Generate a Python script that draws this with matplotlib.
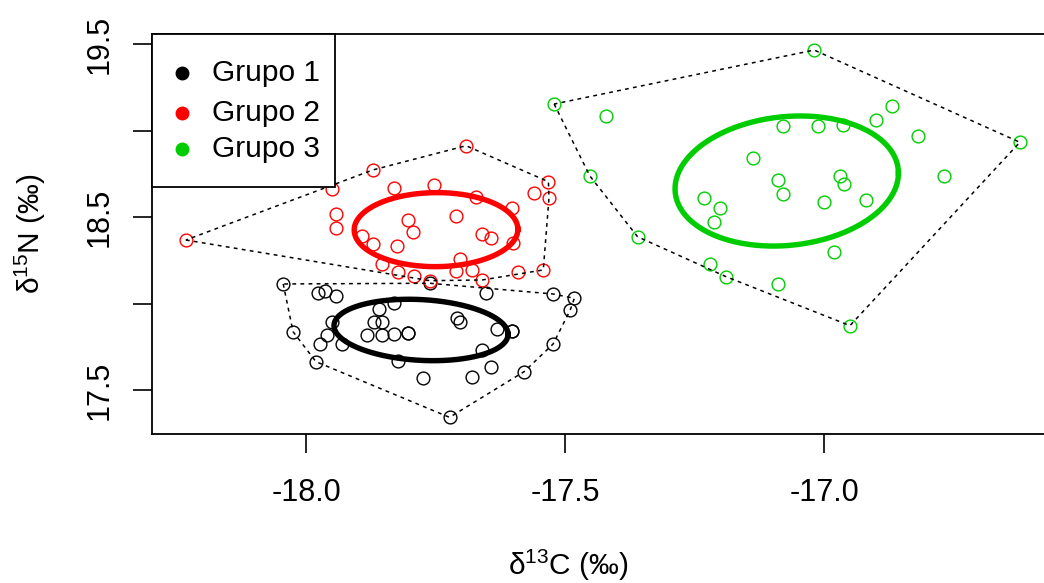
import numpy as np
import matplotlib
matplotlib.use('Agg')
import matplotlib.pyplot as plt
from matplotlib.patches import Rectangle

plt.rcParams['font.family'] = ['Liberation Sans', 'DejaVu Sans']
plt.rcParams['mathtext.default'] = 'regular'

# ---------------- data ----------------
groups = ['Grupo 1', 'Grupo 2', 'Grupo 3']
colors = ['#000000', '#FF0000', '#00CD00']

g1_d13c = [-18.044, -17.976, -17.963, -17.942, -17.761, -17.653, -17.523, -17.482,
           -17.490, -17.523, -17.579, -17.642, -17.680, -17.723, -17.774, -17.823,
           -17.981, -18.025, -17.973, -17.960, -17.950, -17.931, -17.860, -17.830,
           -17.868, -17.854, -17.882, -17.854, -17.830, -17.803, -17.803, -17.709,
           -17.703, -17.602, -17.602, -17.632, -17.661]
g1_d15n = [18.113, 18.062, 18.074, 18.043, 18.117, 18.062, 18.055, 18.030,
           17.962, 17.766, 17.606, 17.635, 17.573, 17.342, 17.571, 17.669,
           17.664, 17.837, 17.766, 17.818, 17.895, 17.766, 17.966, 18.001,
           17.895, 17.895, 17.818, 17.818, 17.824, 17.831, 17.829, 17.914,
           17.895, 17.843, 17.841, 17.851, 17.731]

g2_d13c = [-18.232, -17.871, -17.691, -17.532, -17.531, -17.559, -17.542, -17.590,
           -17.660, -17.680, -17.710, -17.703, -17.761, -17.792, -17.823, -17.854,
           -17.871, -17.891, -17.824, -17.793, -17.804, -17.710, -17.661, -17.642,
           -17.602, -17.600, -17.672, -17.753, -17.830, -17.942, -17.942, -17.950]
g2_d15n = [18.367, 18.772, 18.912, 18.704, 18.608, 18.637, 18.194, 18.184,
           18.136, 18.194, 18.188, 18.255, 18.132, 18.161, 18.184, 18.227,
           18.344, 18.390, 18.332, 18.412, 18.483, 18.506, 18.402, 18.377,
           18.550, 18.348, 18.617, 18.685, 18.669, 18.516, 18.438, 18.660]

g3_d13c = [-17.521, -17.019, -16.622, -16.950, -17.189, -17.220, -17.360, -17.452,
           -17.421, -16.868, -16.900, -16.818, -16.768, -17.080, -17.012, -16.963,
           -17.138, -17.088, -17.080, -16.969, -16.961, -17.000, -16.919, -17.232,
           -17.201, -17.212, -16.981, -17.088]
g3_d15n = [19.153, 19.465, 18.932, 17.872, 18.155, 18.227, 18.386, 18.737,
           19.084, 19.142, 19.061, 18.968, 18.737, 19.026, 19.026, 19.032,
           18.843, 18.714, 18.633, 18.739, 18.691, 18.585, 18.598, 18.608,
           18.550, 18.469, 18.296, 18.111]

# standard ellipses: centre, half-extent in x and y, correlation
ell_cx = [-17.778, -17.749, -17.072]
ell_cy = [17.847, 18.427, 18.708]
ell_w = [0.168, 0.158, 0.2156]
ell_h = [0.1775, 0.214, 0.376]
ell_rho = [-0.14, 0.01, 0.12]

xticks = [-18.0, -17.5, -17.0]
xticklabels = ['-18.0', '-17.5', '-17.0']
yticks = [17.5, 18.0, 18.5, 19.0, 19.5]
yticklabels = ['17.5', '', '18.5', '', '19.5']

xs_all = [g1_d13c, g2_d13c, g3_d13c]
ys_all = [g1_d15n, g2_d15n, g3_d15n]


def convex_hull(xs, ys):
    pts = sorted(set(zip(xs, ys)))

    def cross(o, a, b):
        return (a[0] - o[0]) * (b[1] - o[1]) - (a[1] - o[1]) * (b[0] - o[0])

    lower = []
    for p in pts:
        while len(lower) >= 2 and cross(lower[-2], lower[-1], p) <= 0:
            lower.pop()
        lower.append(p)
    upper = []
    for p in reversed(pts):
        while len(upper) >= 2 and cross(upper[-2], upper[-1], p) <= 0:
            upper.pop()
        upper.append(p)
    h = lower[:-1] + upper[:-1]
    h.append(h[0])
    return np.array(h)


W, H = 1044, 583
fig = plt.figure(figsize=(W / 100, H / 100), dpi=100)
L, R, T, B = 152, 1053, 34, 434
ax = fig.add_axes([L / W, 1 - B / H, (R - L) / W, (B - T) / H])

for xs, ys, c in zip(xs_all, ys_all, colors):
    ax.plot(xs, ys, linestyle='none', marker='o', markersize=9.2,
            markerfacecolor='none', markeredgecolor=c, markeredgewidth=1.0,
            zorder=2)

for xs, ys in zip(xs_all, ys_all):
    h = convex_hull(xs, ys)
    ax.plot(h[:, 0], h[:, 1], color='black', linewidth=1.1,
            linestyle=(0, (2.5, 2.8)), zorder=3)

t = np.linspace(0, 2 * np.pi, 400)
for cx, cy, ew, eh, rho, c in zip(ell_cx, ell_cy, ell_w, ell_h, ell_rho, colors):
    ex = cx + ew * np.cos(t)
    ey = cy + eh * (rho * np.cos(t) + np.sqrt(1 - rho ** 2) * np.sin(t))
    ax.plot(ex, ey, color=c, linewidth=3.9, zorder=4)

ax.set_xlim(-18.2973, -16.558)
ax.set_ylim(17.2457, 19.5578)
ax.set_xticks(xticks)
ax.set_xticklabels(xticklabels)
ax.set_yticks(yticks)
ax.set_yticklabels(yticklabels, rotation=90, va='center')
ax.tick_params(axis='both', direction='out', length=13.7, width=1.2,
               labelsize=22, color='black')
ax.tick_params(axis='x', pad=18)
ax.tick_params(axis='y', pad=13)
for s in ax.spines.values():
    s.set_linewidth(1.3)
ax.spines['right'].set_visible(False)

# legend (manual, R-style box in the top-left corner)
lx0, lx1 = 0.0, (335 - L) / (R - L)
ly0 = 1 - (186.7 - T) / (B - T)
ax.add_patch(Rectangle((lx0, ly0), lx1 - lx0, 1 - ly0, transform=ax.transAxes,
                       facecolor='white', edgecolor='black', linewidth=1.3,
                       zorder=6, clip_on=False))
leg_y_px = [72.7, 112.7, 149.3]
for name, c, py in zip(groups, colors, leg_y_px):
    yf = 1 - (py - T) / (B - T)
    ax.plot([(181.7 - L) / (R - L)], [yf], marker='o', markersize=9,
            color=c, transform=ax.transAxes, zorder=7, clip_on=False)
    ax.text((211.7 - L) / (R - L), yf, name, transform=ax.transAxes,
            fontsize=21.5, ha='left', va='center', zorder=7)

fig.text(568 / W, 1 - 565 / H, 'δ$^{13}$C (‰)', fontsize=21.5,
         ha='center', va='center')
fig.text(30 / W, 1 - 234 / H, 'δ$^{15}$N (‰)', fontsize=21.5,
         ha='center', va='center', rotation=90)

fig.savefig('out.png', dpi=100)
